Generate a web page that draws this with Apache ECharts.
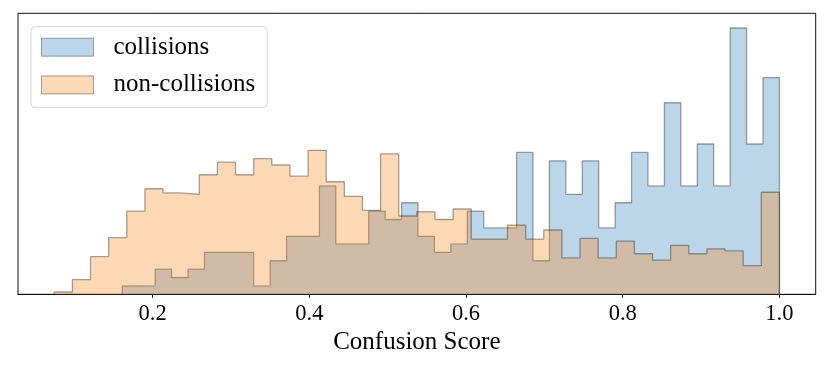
<!DOCTYPE html>
<html>
<head>
	<meta charset="UTF-8">
	<script src="https://cdn.jsdelivr.net/npm/echarts@6/dist/echarts.min.js"></script>
	<title></title>
</head>
<body style="margin:0;background:#fff;">
	<div id="main" style="height:369px;width:830px;"></div>
	<script type="text/javascript">
        // histogram densities, 40 bins each
        var seriesNames = ['collisions', 'non-collisions'];
        var collisionsStart = 0.1612;
        var nonCollisionsStart = 0.0744;
        var binEnd = 1.0;
        var collisions = [0.12, 0.12, 0.36, 0.24, 0.36, 0.60, 0.60, 0.60, 0.12, 0.48,
                          0.83, 0.83, 1.55, 0.72, 0.72, 1.19, 1.07, 1.31, 0.83, 0.60,
                          0.72, 1.19, 0.95, 0.95, 2.03, 0.48, 1.91, 1.43, 1.91, 0.95,
                          1.31, 2.03, 1.55, 2.74, 1.55, 2.15, 1.55, 3.81, 2.15, 3.10];
        var nonCollisions = [0.033, 0.21, 0.54, 0.81, 1.19, 1.51, 1.45, 1.43, 1.71, 1.89,
                             1.71, 1.94, 1.85, 1.69, 2.06, 1.61, 1.40, 1.20, 2.01, 1.12,
                             1.18, 1.07, 1.22, 0.79, 0.79, 0.99, 0.79, 0.92, 0.52, 0.80,
                             0.52, 0.76, 0.58, 0.49, 0.70, 0.58, 0.65, 0.62, 0.41, 1.46];
        var xTicks = [0.2, 0.4, 0.6, 0.8, 1.0];

        var serif = 'Liberation Serif';

        // outline of a stepfilled histogram: edges -> points for step:'end'
        function stepPoints(start, end, vals) {
            var w = (end - start) / vals.length;
            var pts = [[start, 0]];
            for (var i = 0; i < vals.length; i++) {
                pts.push([start + i * w, vals[i]]);
            }
            pts.push([end, vals[vals.length - 1]]);
            pts.push([end, 0]);
            return pts;
        }

        var myChart = echarts.init(document.getElementById('main'));
        var option = {
            animation: false,
            grid: {
                left: 18, right: 14.3, top: 13.3, bottom: 74.7,
                show: true, borderColor: '#111', borderWidth: 1, backgroundColor: 'transparent'
            },
            legend: {
                orient: 'vertical',
                left: 31, top: 26.7,
                icon: 'rect',
                itemWidth: 52, itemHeight: 18,
                itemGap: 12.7,
                padding: [8, 12, 10, 10],
                backgroundColor: '#fff',
                borderColor: '#d6d6d6', borderWidth: 1, borderRadius: 4,
                textStyle: { fontFamily: serif, fontSize: 25, color: '#000', lineHeight: 24, padding: [0, 0, 0, 15] },
                data: [
                    { name: seriesNames[0], itemStyle: { color: 'rgba(31,119,180,0.3)', borderColor: 'rgba(0,0,0,0.35)', borderWidth: 1 } },
                    { name: seriesNames[1], itemStyle: { color: 'rgba(255,127,14,0.3)', borderColor: 'rgba(0,0,0,0.35)', borderWidth: 1 } }
                ]
            },
            xAxis: {
                type: 'value',
                min: 0.0281, max: 1.0463,
                name: 'Confusion Score',
                nameLocation: 'middle',
                nameGap: 35.5,
                nameTextStyle: { fontFamily: serif, fontSize: 25, color: '#000' },
                axisLine: { show: true, lineStyle: { color: '#111', width: 1 } },
                axisTick: { show: true, length: 3.5, lineStyle: { color: '#111' }, customValues: xTicks },
                axisLabel: {
                    fontFamily: serif, fontSize: 22.5, color: '#000', margin: 8,
                    customValues: xTicks,
                    formatter: function (v) { return v.toFixed(1); }
                },
                splitLine: { show: false }
            },
            yAxis: {
                type: 'value',
                min: 0, max: 4.02,
                axisLine: { show: false },
                axisTick: { show: false },
                axisLabel: { show: false },
                splitLine: { show: false }
            },
            series: [
                {
                    name: seriesNames[0],
                    type: 'line',
                    step: 'end',
                    showSymbol: false,
                    symbol: 'none',
                    lineStyle: { color: 'rgba(0,0,0,0.35)', width: 1.3 },
                    itemStyle: { color: 'rgba(31,119,180,0.3)' },
                    areaStyle: { color: 'rgba(31,119,180,0.3)', opacity: 1 },
                    data: stepPoints(collisionsStart, binEnd, collisions),
                    z: 2
                },
                {
                    name: seriesNames[1],
                    type: 'line',
                    step: 'end',
                    showSymbol: false,
                    symbol: 'none',
                    lineStyle: { color: 'rgba(0,0,0,0.35)', width: 1.3 },
                    itemStyle: { color: 'rgba(255,127,14,0.3)' },
                    areaStyle: { color: 'rgba(255,127,14,0.3)', opacity: 1 },
                    data: stepPoints(nonCollisionsStart, binEnd, nonCollisions),
                    z: 3
                }
            ]
        };
        myChart.setOption(option);
	</script>
</body>
</html>
